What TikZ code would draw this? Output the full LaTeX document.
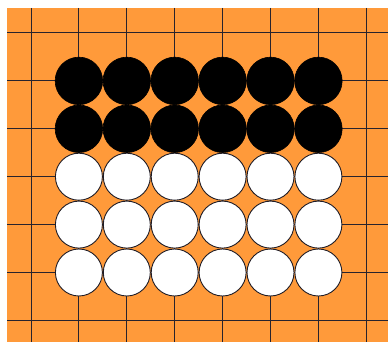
\documentclass[tikz,border=0pt]{standalone}
\definecolor{board}{RGB}{255,154,58}
\definecolor{gridc}{RGB}{40,35,45}
\begin{document}
\begin{tikzpicture}[x=1pt,y=-1pt,
  blackstone/.style={circle,fill=black,draw=black,line width=0.6pt,minimum size=47.5pt,inner sep=0pt},
  whitestone/.style={circle,fill=white,draw=gridc!80!black,line width=0.9pt,minimum size=47pt,inner sep=0pt},
  gridline/.style={draw=gridc,line width=1pt}]
\useasboundingbox (0,0) rectangle (388,342);
\fill[white] (0,0) rectangle (388,342);
\fill[board] (7,8) rectangle (388,342);
\foreach \i in {0,...,7} {
  \draw[gridline] ({31+47.9*\i},8) -- ({31+47.9*\i},342);
}
\foreach \j in {0,...,6} {
  \draw[gridline] (7,{33+47.9*\j}) -- (388,{33+47.9*\j});
}
\foreach \i in {1,...,6} {
  \node[blackstone] (b1\i) at ({31+47.9*\i},{33+47.9}) {};
  \node[blackstone] (b2\i) at ({31+47.9*\i},{33+47.9*2}) {};
  \node[whitestone] (w3\i) at ({31+47.9*\i},{33+47.9*3}) {};
  \node[whitestone] (w4\i) at ({31+47.9*\i},{33+47.9*4}) {};
  \node[whitestone] (w5\i) at ({31+47.9*\i},{33+47.9*5}) {};
}
\end{tikzpicture}
\end{document}
